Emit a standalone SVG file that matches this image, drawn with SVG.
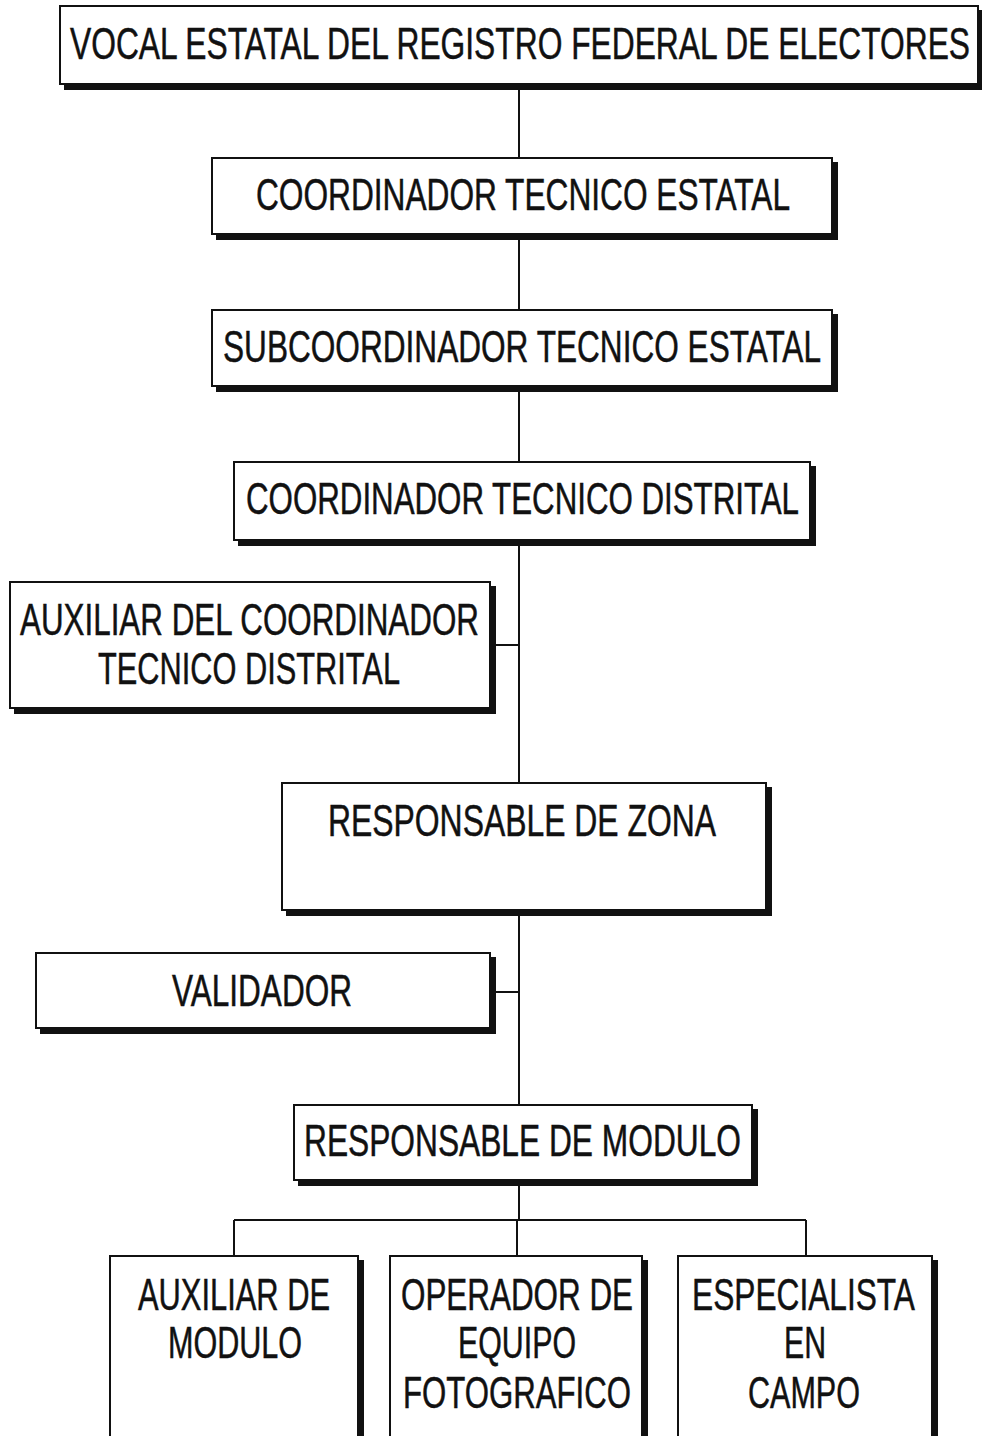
<svg xmlns="http://www.w3.org/2000/svg" width="986" height="1436" viewBox="0 0 986 1436">
<style>
.sh{fill:#111}
.bx{fill:#fff;stroke:#111;stroke-width:2}
.t{font-family:"Liberation Sans",Arial,sans-serif;font-size:44px;fill:#111;stroke:#111;stroke-width:0.5}
.c{stroke:#111;stroke-width:2;fill:none}
</style>
<rect width="986" height="1436" fill="#fff"/>
<g id="connectors">
<path class="c" d="M519 86V158M519 238V310M519 390V462M519 542V783M492 645H519M519 912V1105M492 992H519M519 1182V1220M234 1220H806M234 1220V1256M517 1220V1256M806 1220V1256"/>
</g>
<g id="n1">
<rect class="sh" x="64" y="10" width="918" height="80"/>
<rect class="bx" x="60" y="6" width="918" height="78"/>
<text class="t" x="70" y="59" textLength="900" lengthAdjust="spacingAndGlyphs">VOCAL ESTATAL DEL REGISTRO FEDERAL DE ELECTORES</text>
</g>
<g id="n2">
<rect class="sh" x="216" y="162" width="622" height="78"/>
<rect class="bx" x="212" y="158" width="620" height="76"/>
<text class="t" x="256" y="210" textLength="534" lengthAdjust="spacingAndGlyphs">COORDINADOR TECNICO ESTATAL</text>
</g>
<g id="n3">
<rect class="sh" x="216" y="314" width="622" height="78"/>
<rect class="bx" x="212" y="310" width="620" height="76"/>
<text class="t" x="223" y="362" textLength="598" lengthAdjust="spacingAndGlyphs">SUBCOORDINADOR TECNICO ESTATAL</text>
</g>
<g id="n4">
<rect class="sh" x="238" y="466" width="578" height="80"/>
<rect class="bx" x="234" y="462" width="576" height="78"/>
<text class="t" x="246" y="514" textLength="553" lengthAdjust="spacingAndGlyphs">COORDINADOR TECNICO DISTRITAL</text>
</g>
<g id="n5">
<rect class="sh" x="14" y="586" width="482" height="128"/>
<rect class="bx" x="10" y="582" width="480" height="126"/>
<text class="t" x="20" y="635" textLength="459" lengthAdjust="spacingAndGlyphs">AUXILIAR DEL COORDINADOR</text>
<text class="t" x="98" y="684" textLength="302" lengthAdjust="spacingAndGlyphs">TECNICO DISTRITAL</text>
</g>
<g id="n6">
<rect class="sh" x="286" y="787" width="486" height="129"/>
<rect class="bx" x="282" y="783" width="484" height="127"/>
<text class="t" x="328" y="836" textLength="388" lengthAdjust="spacingAndGlyphs">RESPONSABLE DE ZONA</text>
</g>
<g id="n7">
<rect class="sh" x="40" y="957" width="456" height="77"/>
<rect class="bx" x="36" y="953" width="454" height="75"/>
<text class="t" x="172" y="1006" textLength="180" lengthAdjust="spacingAndGlyphs">VALIDADOR</text>
</g>
<g id="n8">
<rect class="sh" x="298" y="1109" width="460" height="77"/>
<rect class="bx" x="294" y="1105" width="458" height="75"/>
<text class="t" x="304" y="1156" textLength="437" lengthAdjust="spacingAndGlyphs">RESPONSABLE DE MODULO</text>
</g>
<g id="n9">
<rect class="sh" x="114" y="1260" width="250" height="180"/>
<rect class="bx" x="110" y="1256" width="248" height="182"/>
<text class="t" x="138" y="1310" textLength="192" lengthAdjust="spacingAndGlyphs">AUXILIAR DE</text>
<text class="t" x="168" y="1358" textLength="134" lengthAdjust="spacingAndGlyphs">MODULO</text>
</g>
<g id="n10">
<rect class="sh" x="394" y="1260" width="254" height="180"/>
<rect class="bx" x="390" y="1256" width="252" height="182"/>
<text class="t" x="401" y="1310" textLength="232" lengthAdjust="spacingAndGlyphs">OPERADOR DE</text>
<text class="t" x="458" y="1358" textLength="118" lengthAdjust="spacingAndGlyphs">EQUIPO</text>
<text class="t" x="403" y="1408" textLength="228" lengthAdjust="spacingAndGlyphs">FOTOGRAFICO</text>
</g>
<g id="n11">
<rect class="sh" x="682" y="1260" width="256" height="180"/>
<rect class="bx" x="678" y="1256" width="254" height="182"/>
<text class="t" x="692" y="1310" textLength="223" lengthAdjust="spacingAndGlyphs">ESPECIALISTA</text>
<text class="t" x="784" y="1358" textLength="42" lengthAdjust="spacingAndGlyphs">EN</text>
<text class="t" x="748" y="1408" textLength="112" lengthAdjust="spacingAndGlyphs">CAMPO</text>
</g>
</svg>
